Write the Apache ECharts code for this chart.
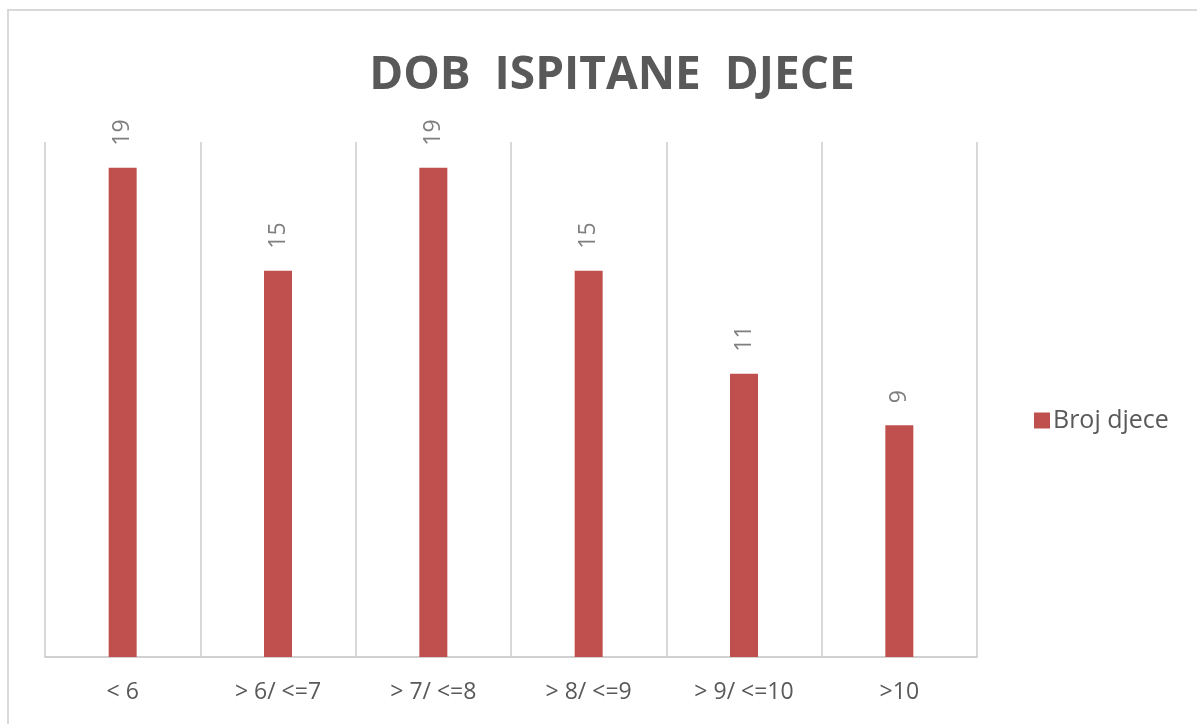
<!DOCTYPE html>
<html>
<head>
    <meta charset="utf-8">
    <title>Dob ispitane djece</title>
    <script src="https://cdn.jsdelivr.net/npm/echarts@6/dist/echarts.min.js"></script>
    <style>
        html, body { margin: 0; padding: 0; background: #fff; }
        #main { width: 1197px; height: 724px; }
    </style>
</head>
<body>
<div id="main"></div>
<script type="text/javascript">
    // podaci
    var categories = ['< 6', '> 6/ <=7', '> 7/ <=8', '> 8/ <=9', '> 9/ <=10', '>10'];
    var brojDjece = [19, 15, 19, 15, 11, 9];
    var seriesName = 'Broj djece';
    var chartTitle = 'DOB  ISPITANE  DJECE';

    var myChart = echarts.init(document.getElementById('main'));

    var option = {
        animation: false,
        backgroundColor: '#ffffff',
        graphic: [{
            type: 'rect',
            shape: { x: 8, y: 10, width: 1250, height: 760 },
            style: { fill: 'none', stroke: '#d9d9d9', lineWidth: 2 },
            silent: true
        }],
        title: {
            text: chartTitle,
            left: 607,
            top: 48,
            textAlign: 'center',
            textStyle: {
                fontFamily: 'Open Sans',
                fontWeight: 'bold',
                fontSize: 46,
                color: '#595959'
            }
        },
        legend: {
            left: 1029,
            top: 403,
            itemWidth: 16,
            itemHeight: 16,
            icon: 'rect',
            itemGap: 6,
            textStyle: { fontFamily: 'Open Sans', fontSize: 25, color: '#595959', padding: [0, 0, 0, -2] },
            data: [seriesName]
        },
        grid: { left: 45, right: 220, top: 142, bottom: 67 },
        xAxis: {
            type: 'category',
            data: categories,
            axisLine: { lineStyle: { color: '#d0d0d0', width: 2 } },
            axisTick: { show: false },
            splitLine: { show: true, lineStyle: { color: '#d9d9d9', width: 2 } },
            axisLabel: {
                margin: 24,
                fontFamily: 'Open Sans',
                fontSize: 23,
                color: '#595959'
            }
        },
        yAxis: {
            type: 'value',
            min: 0,
            max: 20,
            show: false,
            splitLine: { show: false }
        },
        series: [{
            name: seriesName,
            type: 'bar',
            data: brojDjece,
            barWidth: 28,
            itemStyle: { color: '#c0504d' },
            label: {
                show: true,
                position: 'top',
                distance: 19,
                rotate: 90,
                align: 'left',
                verticalAlign: 'middle',
                offset: [3, 0],
                fontFamily: 'Open Sans',
                fontSize: 23,
                color: '#7f7f7f'
            }
        }]
    };
    myChart.setOption(option);
</script>
</body>
</html>
